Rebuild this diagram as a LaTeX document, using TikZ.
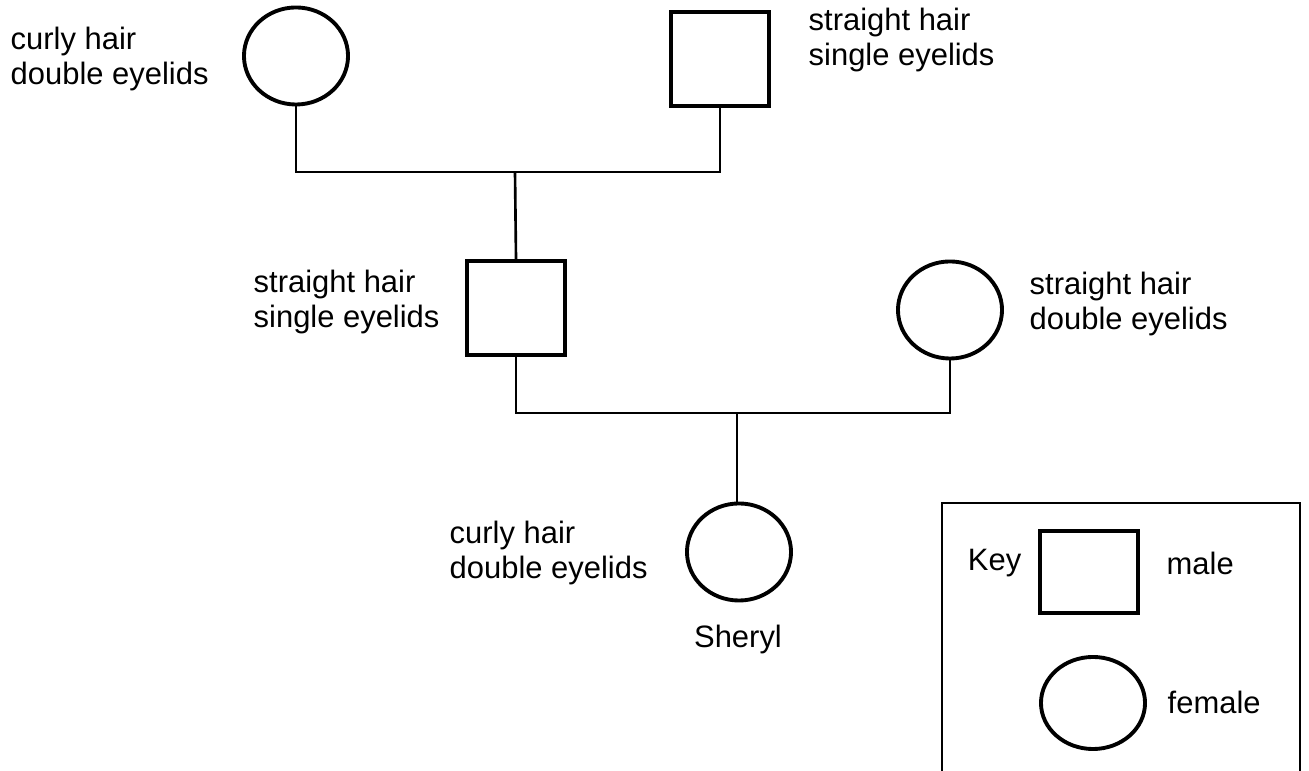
\documentclass[tikz,border=0pt]{standalone}
\usepackage{fontspec}
\setmainfont{Liberation Sans}
\usetikzlibrary{shapes.geometric}

\tikzset{
  male/.style={draw, rectangle, line width=1.1pt, inner sep=0pt, minimum width=0.98cm, minimum height=0.94cm},
  female/.style={draw, ellipse, line width=1.1pt, inner sep=0pt, minimum width=1.04cm, minimum height=0.97cm},
  trait/.style={align=left, anchor=west, inner sep=0pt, font=\fontsize{8.8}{9.9}\selectfont},
  link/.style={line width=0.75pt}
}

\begin{document}
\begin{tikzpicture}[x=0.01cm, y=-0.01cm]
\useasboundingbox (0,0) rectangle (1309,771);

% ---------- grandparents ----------
\node[female] (gran) at (296,56) {};
\node[trait] (granlab) at (10,59) {curly hair\\double eyelids};
\node[male] (grandpa) at (720,59) {};
\node[trait] (grandpalab) at (808,40) {straight hair\\single eyelids};

\coordinate (top) at (515,172);
\draw[link] (gran.south) |- (top) -| (grandpa.south);

% ---------- parents ----------
\node[male] (dad) at (516,308) {};
\node[trait] (dadlab) at (253,302) {straight hair\\single eyelids};
\node[female] (mum) at (950,310) {};
\node[trait] (mumlab) at (1029,304) {straight hair\\double eyelids};

\draw[link] (top) -- (dad.north);

\coordinate (mid) at (737,413);
\draw[link] (dad.south) |- (mid) -| (mum.south);

% ---------- Sheryl ----------
\node[female] (sheryl) at (739,552) {};
\node[trait] (sheryllab) at (449,553) {curly hair\\double eyelids};
\node[trait, anchor=center] (name) at (738,640) {Sheryl};

\draw[link] (mid) -- (mid |- sheryl.north);

% ---------- key ----------
\draw[link] (942,771) -- (942,503) -- (1300,503) -- (1300,771);
\node[male, minimum height=0.82cm] (keymale) at (1089,572) {};
\node[trait, anchor=east] (keylab) at (1022,563) {Key};
\node[trait] (malelab) at (1166,563) {male};
\node[female, minimum height=0.92cm] (keyfemale) at (1093,703) {};
\node[trait] (femalelab) at (1167,702) {female};

\end{tikzpicture}
\end{document}
